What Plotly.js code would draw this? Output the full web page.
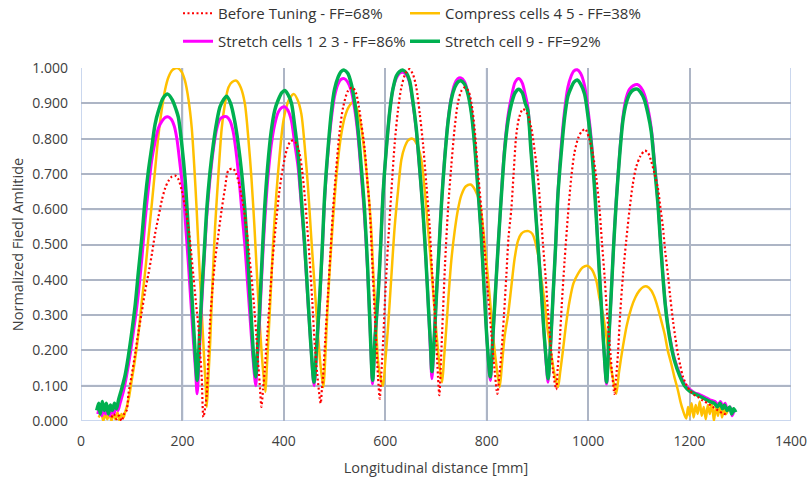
<!DOCTYPE html>
<html>
<head>
<meta charset="utf-8">
<script src="https://cdn.plot.ly/plotly-3.0.1.min.js"></script>
<style>html,body{margin:0;padding:0;background:#fff;}#chart{width:810px;height:480px;}</style>
</head>
<body>
<div id="chart"></div>
<script>
// ---------- DATA ----------
var seriesNames = ["Before Tuning - FF=68%", "Compress cells 4 5 - FF=38%", "Stretch cells 1 2 3 - FF=86%", "Stretch cell 9 - FF=92%"];

var beforeX = [60,65,70,75,80,85,90,93.6,100,106.7,113,120,126,133,140,146,153,159.3,166,172.4,179,185.6,192,198.7,205,211.8,217,221.7,227,231.6,235,238,241.4,245,248,251,254.6,259,264.4,271,277.5,284,290.7,299.8,306,313,320,326,331,336,341,345.8,349,352.4,355.7,359,362.2,367,372,378,385.2,391,398.4,406,412,418,425,431.2,436,441,446,451,456,460.8,466,472.6,475,477.2,482,487,492,497,503,510,517,526.5,535,542,548,553,559.4,564,569.3,574,579,583,585.7,589,592,595.5,600,605.4,612,618.5,625,631.7,640,648,655,661.2,668,674.4,681,687.5,692,697.4,701,704,706.6,710,713.8,718,723.7,730,736.8,743,750,757,764,770,776,782,789.4,796,802.5,809,815.6,821,825,828.8,834,838.6,843,848.5,853,858.3,864,871.4,880,888,895,901,906,911,916,920.7,926,930.6,937,940,943.7,948,953.6,960,966.7,973,980,987,994.3,1002,1009.4,1016,1022.5,1027,1032.4,1037,1042.3,1047,1052,1055,1058.7,1063,1068.5,1075,1081.7,1088,1094.8,1103,1112,1118,1124.4,1131,1137.6,1142,1147.4,1152,1157.3,1162,1167.2,1172,1177,1182,1187,1193,1200,1208,1216.4,1226,1236,1246,1255.8,1265,1275.6];
var beforeY = [0.01,0.02,0.005,0.015,0.0,0.02,0.03,0.077,0.13,0.19,0.25,0.31,0.365,0.417,0.475,0.53,0.58,0.625,0.66,0.68,0.692,0.695,0.685,0.653,0.61,0.55,0.48,0.41,0.33,0.266,0.19,0.125,0.011,0.04,0.077,0.18,0.285,0.37,0.455,0.53,0.6,0.66,0.71,0.715,0.7,0.664,0.61,0.55,0.48,0.41,0.33,0.24,0.17,0.106,0.04,0.09,0.143,0.24,0.34,0.46,0.57,0.65,0.72,0.77,0.79,0.795,0.785,0.756,0.71,0.64,0.55,0.455,0.34,0.22,0.13,0.05,0.09,0.125,0.24,0.36,0.48,0.6,0.71,0.82,0.89,0.935,0.945,0.93,0.89,0.84,0.77,0.69,0.6,0.46,0.31,0.2,0.125,0.063,0.13,0.22,0.36,0.5,0.65,0.785,0.88,0.945,0.985,0.997,0.98,0.945,0.87,0.785,0.67,0.55,0.43,0.31,0.21,0.125,0.073,0.18,0.31,0.45,0.6,0.72,0.83,0.9,0.935,0.945,0.935,0.9,0.83,0.72,0.6,0.48,0.36,0.25,0.143,0.077,0.13,0.19,0.3,0.41,0.52,0.6,0.7,0.81,0.86,0.884,0.87,0.83,0.76,0.69,0.6,0.5,0.41,0.31,0.22,0.143,0.09,0.15,0.22,0.33,0.455,0.58,0.69,0.76,0.8,0.82,0.827,0.8,0.756,0.69,0.6,0.51,0.41,0.31,0.22,0.14,0.077,0.12,0.19,0.3,0.41,0.51,0.6,0.67,0.72,0.75,0.766,0.76,0.736,0.7,0.66,0.61,0.55,0.48,0.415,0.35,0.285,0.235,0.19,0.155,0.125,0.105,0.087,0.075,0.068,0.058,0.05,0.04,0.03,0.022,0.016];

var compressX = [35,40,44,48,52,56,60,64,68,72,76,80,84,87,90.3,95,100,105,110,115,120,127,133,140,146,152,159,166,172.4,180,190,198,205,212,218.4,223,228,233,238,242,246,248,251,254.6,259,264.4,271,277.5,284,290.7,298,306.4,315,323,330,336,342,349,354,359,363.6,366,369,374,378.7,385,391.8,398,405,412,420,427,434.5,441,447.7,454,460.8,467,472.6,478,481,483.8,488,493.6,500,506.8,513,520,528,536.3,544,552.8,559,566,572,576,581,585.7,591,595.5,600,605.4,612,618.5,625,631.7,638,645,653.4,662,671,678,684,691,697.4,702,707.2,712,716,720.4,725,730.2,737,743.4,750,759,768.3,777,786,793,799.2,806,812.3,818,825.5,830,835.3,842,848.5,855,861.6,868,875,882.6,890,901,907,914,920,927.3,934,940.4,945,950.3,957,963.4,971,979.9,989,998.2,1007,1016,1022,1029,1036,1042.3,1049,1055.4,1061,1068.5,1076,1085,1093,1101.4,1109,1116,1124.4,1131,1137.6,1144,1150.7,1157,1163.9,1170,1177,1182,1187,1193.4,1197,1200,1204,1208,1212,1216,1220,1224,1228,1232,1236,1240,1244,1248,1252,1256,1260,1264,1268,1272,1275];
var compressY = [0.01,0.025,0.0,0.02,0.005,0.025,0.0,0.02,0.005,0.025,0.0,0.02,0.01,0.025,0.04,0.07,0.115,0.16,0.21,0.27,0.34,0.43,0.52,0.62,0.71,0.8,0.88,0.94,0.974,0.994,1.0,0.99,0.964,0.91,0.83,0.73,0.6,0.45,0.31,0.2,0.096,0.04,0.12,0.22,0.38,0.55,0.7,0.83,0.9,0.945,0.96,0.964,0.945,0.9,0.8,0.69,0.55,0.36,0.24,0.143,0.082,0.14,0.22,0.36,0.5,0.64,0.756,0.84,0.89,0.915,0.926,0.91,0.87,0.78,0.66,0.52,0.38,0.25,0.153,0.096,0.16,0.25,0.37,0.5,0.63,0.74,0.81,0.86,0.89,0.903,0.885,0.83,0.76,0.66,0.55,0.43,0.3,0.17,0.12,0.1,0.17,0.266,0.41,0.55,0.65,0.74,0.775,0.795,0.8,0.785,0.74,0.65,0.55,0.43,0.31,0.23,0.153,0.11,0.18,0.266,0.36,0.455,0.54,0.6,0.64,0.665,0.67,0.655,0.62,0.545,0.455,0.35,0.247,0.17,0.096,0.16,0.24,0.3,0.38,0.46,0.51,0.53,0.537,0.538,0.53,0.474,0.41,0.34,0.26,0.19,0.13,0.096,0.14,0.2,0.28,0.34,0.39,0.417,0.435,0.44,0.43,0.398,0.35,0.304,0.24,0.172,0.12,0.077,0.14,0.21,0.27,0.32,0.35,0.37,0.38,0.381,0.37,0.35,0.32,0.285,0.247,0.2,0.162,0.125,0.087,0.055,0.03,0.007,0.04,0.015,0.05,0.01,0.045,0.02,0.055,0.015,0.04,0.005,0.045,0.02,0.05,0.0,0.04,0.015,0.045,0.01,0.035,0.02,0.03];

var stretch123X = [33,37,41,45,49,53,57,61,65,69,73,77,83,90,97,104,108,113,120,126.5,133,139.6,146,152.7,160,166,171,178,184,189,195,202,207,212,217,222,226,229,233,238,243,248,254,261,268,274,281,287,294,300,306,312,318,323,328,333,338,342,344.5,348,352.4,357,362,368,375,382,389,396,402,408,415,421,428,434,441,447,453,459.5,465,471,476,480.5,487,494,500,507,513,519,526,533,540,546,552,559,565,570,575,580,586,591,595.5,602,609,615,622,628,635,642,648,654,661,667,674,680,685.5,689,692,696,701,706,711,717,724,730,737,743,749,756,763,770,776,782,789,795,801,807,813,819,824,829,835,842,849,856,863,870,876,881,887,894,901,908,913,917.5,921,926,931,936,940.4,947,953.6,960,966.7,972,978.5,985,993,1000,1006,1013,1019,1025,1030.4,1036.3,1041,1045.5,1050,1055.4,1062,1068.5,1075,1081.7,1089,1097,1104,1111,1118,1124.4,1131,1137.6,1142,1147.4,1152,1157.3,1164,1170.4,1180,1190,1200,1210,1220,1230,1240,1250,1256,1261,1266,1270,1275,1280,1284,1288];
var stretch123Y = [0.02,0.04,0.015,0.035,0.02,0.04,0.015,0.035,0.02,0.04,0.03,0.05,0.08,0.13,0.19,0.26,0.3,0.36,0.46,0.57,0.66,0.74,0.79,0.83,0.85,0.86,0.862,0.855,0.835,0.8,0.73,0.64,0.54,0.44,0.33,0.22,0.14,0.077,0.18,0.33,0.46,0.58,0.68,0.77,0.83,0.855,0.862,0.862,0.85,0.82,0.76,0.68,0.58,0.5,0.4,0.3,0.2,0.13,0.1,0.18,0.29,0.43,0.56,0.68,0.78,0.84,0.875,0.888,0.89,0.88,0.85,0.79,0.72,0.62,0.49,0.35,0.22,0.1,0.21,0.35,0.49,0.63,0.76,0.86,0.92,0.955,0.968,0.97,0.96,0.935,0.88,0.81,0.71,0.58,0.43,0.266,0.105,0.24,0.36,0.5,0.64,0.77,0.88,0.94,0.972,0.985,0.988,0.98,0.958,0.905,0.825,0.725,0.6,0.46,0.31,0.2,0.12,0.22,0.36,0.49,0.62,0.745,0.855,0.915,0.955,0.97,0.972,0.962,0.93,0.875,0.79,0.675,0.53,0.37,0.22,0.115,0.26,0.41,0.53,0.645,0.77,0.865,0.92,0.96,0.97,0.958,0.925,0.89,0.78,0.645,0.5,0.36,0.25,0.16,0.11,0.22,0.36,0.5,0.645,0.78,0.88,0.945,0.978,0.992,0.995,0.985,0.95,0.88,0.8,0.66,0.505,0.35,0.22,0.105,0.24,0.36,0.49,0.625,0.755,0.86,0.915,0.94,0.95,0.953,0.945,0.925,0.885,0.83,0.73,0.62,0.525,0.415,0.335,0.27,0.215,0.175,0.135,0.105,0.09,0.08,0.075,0.068,0.06,0.055,0.045,0.055,0.04,0.05,0.03,0.04,0.015,0.03];

var stretch9X = [31,35,38,42,46,50,54,58,62,66,70,74,80,87,93,100,107,113,120,126,133,140,146,153,162,171,180,188,192,199,205,210,215,220,224,229,233,238,243,248,254,261,268,274,281,287,295,303,310,317,323,328,333,337,341,344.5,348,352,357,362,368,375,382,389,396,402,408,415,421,428,434,441,447,453,459.5,465,471,476,480.5,487,494,500,507,513,519,526,533,540,546,552,559,565,570,575,580,586,591,595.5,602,609,615,622,628,635,642,648,654,661,667,674,680,685.5,689,692,696,701,706,711,717,724,730,737,743,749,756,763,770,776,782,789,795,801,807,813,819,824,829,835,842,849,856,863,870,876,881,887,894,901,908,913,917.5,921,926,931,936,940.4,947,953.6,960,966.7,972,978.5,985,993,1000,1006,1013,1019,1025,1030.4,1036.3,1041,1045.5,1050,1055.4,1062,1068.5,1075,1081.7,1089,1097,1104,1111,1118,1124.4,1131,1137.6,1142,1147.4,1152,1157.3,1164,1170.4,1180,1190,1200,1210,1220,1229.6,1240,1249,1255,1260,1265,1269,1274,1279,1283,1287,1291];
var stretch9Y = [0.03,0.05,0.02,0.055,0.03,0.05,0.02,0.045,0.03,0.05,0.035,0.06,0.09,0.13,0.18,0.25,0.33,0.42,0.52,0.62,0.71,0.78,0.84,0.88,0.915,0.926,0.91,0.88,0.86,0.78,0.69,0.58,0.45,0.32,0.22,0.115,0.22,0.36,0.48,0.6,0.7,0.785,0.85,0.89,0.91,0.92,0.9,0.85,0.785,0.7,0.6,0.49,0.36,0.26,0.17,0.125,0.2,0.31,0.46,0.6,0.72,0.82,0.88,0.91,0.93,0.936,0.925,0.9,0.84,0.756,0.64,0.5,0.36,0.22,0.11,0.22,0.36,0.5,0.64,0.77,0.88,0.94,0.974,0.99,0.994,0.985,0.955,0.9,0.83,0.73,0.6,0.44,0.266,0.115,0.24,0.36,0.5,0.64,0.77,0.88,0.94,0.978,0.99,0.994,0.985,0.964,0.91,0.83,0.73,0.6,0.46,0.31,0.22,0.14,0.22,0.36,0.49,0.62,0.74,0.85,0.91,0.945,0.96,0.964,0.955,0.926,0.87,0.785,0.67,0.53,0.37,0.22,0.125,0.26,0.41,0.53,0.64,0.76,0.85,0.9,0.93,0.94,0.93,0.9,0.88,0.77,0.64,0.5,0.36,0.25,0.17,0.12,0.22,0.36,0.5,0.64,0.76,0.86,0.92,0.945,0.96,0.966,0.955,0.926,0.86,0.785,0.65,0.5,0.35,0.22,0.11,0.24,0.36,0.49,0.62,0.75,0.85,0.9,0.926,0.938,0.94,0.93,0.91,0.87,0.82,0.72,0.615,0.52,0.41,0.33,0.266,0.21,0.17,0.13,0.1,0.085,0.077,0.07,0.063,0.055,0.05,0.04,0.05,0.035,0.045,0.03,0.04,0.02,0.035,0.025];

// ---------- STYLE ----------
var FONT = '"Open Sans", Lato, sans-serif';
var GRID = '#adb5c5';
var GRID_LIGHT = '#cad7ee';
var TXT = '#404040';

var traces = [
  {x: compressX, y: compressY, name: seriesNames[1], legend: 'legend2',
   mode: 'lines', line: {color: '#ffc000', width: 2.5, shape: 'spline', smoothing: 0.8}},
  {x: stretch123X, y: stretch123Y, name: seriesNames[2], legend: 'legend3',
   mode: 'lines', line: {color: '#ff00ff', width: 3, shape: 'spline', smoothing: 0.8}},
  {x: stretch9X, y: stretch9Y, name: seriesNames[3], legend: 'legend4',
   mode: 'lines', line: {color: '#00b050', width: 3.5, shape: 'spline', smoothing: 0.8}},
  {x: beforeX, y: beforeY, name: seriesNames[0], legend: 'legend',
   mode: 'lines', line: {color: '#ff0000', width: 2.2, dash: '2px,2.5px', shape: 'spline', smoothing: 0.8}}
];

var shapes = [];
function vline(x, c) { shapes.push({type: 'line', layer: 'below', xref: 'x', yref: 'paper', x0: x, x1: x, y0: 0, y1: 1, line: {color: c, width: 2}}); }
function hline(y, c) { shapes.push({type: 'line', layer: 'below', xref: 'paper', yref: 'y', x0: 0, x1: 1, y0: y, y1: y, line: {color: c, width: 2}}); }
[0, 200, 800, 1400].forEach(function (v) { vline(v, GRID_LIGHT); });
[0, 0.1, 0.6, 0.7].forEach(function (v) { hline(v, GRID_LIGHT); });

function makeLegend(px, py) {
  return {
    orientation: 'h', xref: 'container', yref: 'container', x: px / 810, y: 1 - py / 480,
    xanchor: 'left', yanchor: 'middle', itemwidth: 30, bgcolor: 'rgba(0,0,0,0)',
    font: {family: FONT, size: 15, color: '#333333'}
  };
}

var layout = {
  width: 810, height: 480,
  margin: {l: 81, r: 19, t: 68, b: 59},
  paper_bgcolor: '#ffffff', plot_bgcolor: '#ffffff',
  font: {family: FONT, size: 14, color: TXT},
  showlegend: true,
  legend: makeLegend(178, 13.5),
  legend2: makeLegend(405, 13.5),
  legend3: makeLegend(178, 41.5),
  legend4: makeLegend(405, 41.5),
  xaxis: {
    range: [0, 1400], tick0: 0, dtick: 200, showgrid: true, gridcolor: GRID, gridwidth: 2,
    zeroline: false, showline: false, ticks: '', ticklabelstandoff: 10,
    tickfont: {family: FONT, size: 14, color: TXT},
    title: {text: 'Longitudinal distance [mm]', font: {family: FONT, size: 14.5, color: TXT}, standoff: 13}
  },
  yaxis: {
    range: [0, 1], tick0: 0, dtick: 0.1, tickformat: '.3f', showgrid: true, gridcolor: GRID, gridwidth: 2,
    zeroline: false, showline: false, ticks: '', ticklabelstandoff: 12,
    tickfont: {family: FONT, size: 14, color: TXT},
    title: {text: 'Normalized Fiedl Amlitide', font: {family: FONT, size: 14.5, color: TXT}, standoff: 5}
  },
  shapes: shapes
};

Plotly.newPlot('chart', traces, layout, {displayModeBar: false, staticPlot: true});
</script>
</body>
</html>
